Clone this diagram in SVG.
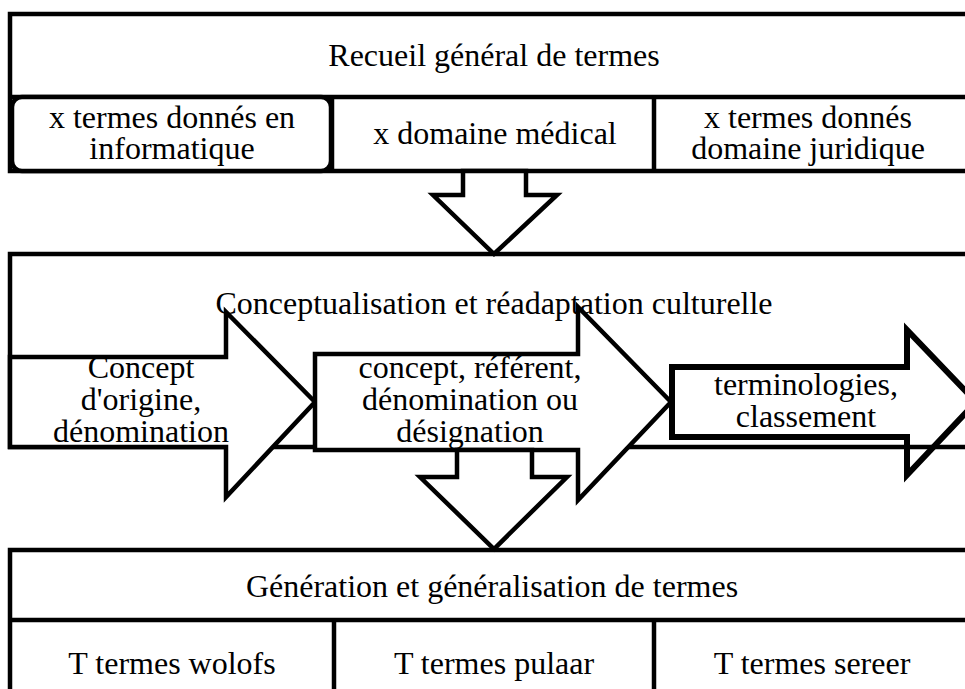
<svg xmlns="http://www.w3.org/2000/svg" width="965" height="689" viewBox="0 0 965 689">
<style>
.b{fill:#fff;stroke:#000;stroke-width:4.5;stroke-linejoin:miter}
.o{fill:none;stroke:#000;stroke-width:6;stroke-linejoin:miter}
.l{fill:none;stroke:#000;stroke-width:4.5}
.t{font-family:"Liberation Serif","Times New Roman",serif;font-size:32px;fill:#000;text-anchor:middle}
</style>
<rect width="965" height="689" fill="#fff"/>
<g id="box-recueil">
<rect class="b" x="10" y="14" width="1000" height="157"/>
<line class="l" x1="10" y1="97" x2="965" y2="97"/>
<line class="l" x1="332" y1="97" x2="332" y2="171"/>
<line class="l" x1="654" y1="97" x2="654" y2="171"/>
<rect class="b" x="12" y="97" width="319" height="74" rx="10"/>
<text class="t" x="494" y="66">Recueil général de termes</text>
<text class="t" x="172" y="128">x termes donnés en</text>
<text class="t" x="172" y="159">informatique</text>
<text class="t" x="495" y="144">x domaine médical</text>
<text class="t" x="808" y="128">x termes donnés</text>
<text class="t" x="808" y="159">domaine juridique</text>
</g>
<g id="box-conceptualisation">
<rect class="b" x="10" y="254" width="1000" height="193"/>
</g>
<g id="box-generation">
<rect class="b" x="10" y="550" width="1000" height="200"/>
<line class="l" x1="10" y1="620" x2="965" y2="620"/>
<line class="l" x1="334" y1="620" x2="334" y2="689"/>
<line class="l" x1="654" y1="620" x2="654" y2="689"/>
</g>
<g id="connectors">
<polygon class="b" points="463,171 526,171 526,195 557,195 494,254 433,195 463,195"/>
<polygon class="b" points="10,357 226,357 226,312 315,402 226,497 226,447 10,447"/>
<polygon class="b" points="315,354 578,354 578,307 671,402 578,500 578,450 315,450"/>
<polygon class="o" points="672,367 907,367 907,330 976,402 907,475 907,437 672,437"/>
<polygon class="b" points="457,450 532,450 532,477 567,477 494,549 420,477 457,477"/>
</g>
<g id="labels">
<text class="t" x="494" y="314">Conceptualisation et réadaptation culturelle</text>
<text class="t" x="141" y="378">Concept</text>
<text class="t" x="141" y="410">d'origine,</text>
<text class="t" x="141" y="442">dénomination</text>
<text class="t" x="470" y="378">concept, référent,</text>
<text class="t" x="470" y="410">dénomination ou</text>
<text class="t" x="470" y="442">désignation</text>
<text class="t" x="806" y="395">terminologies,</text>
<text class="t" x="806" y="427">classement</text>
<text class="t" x="492" y="597">Génération et généralisation de termes</text>
<text class="t" x="172" y="674">T termes wolofs</text>
<text class="t" x="494" y="674">T termes pulaar</text>
<text class="t" x="812" y="674">T termes sereer</text>
</g>
</svg>
